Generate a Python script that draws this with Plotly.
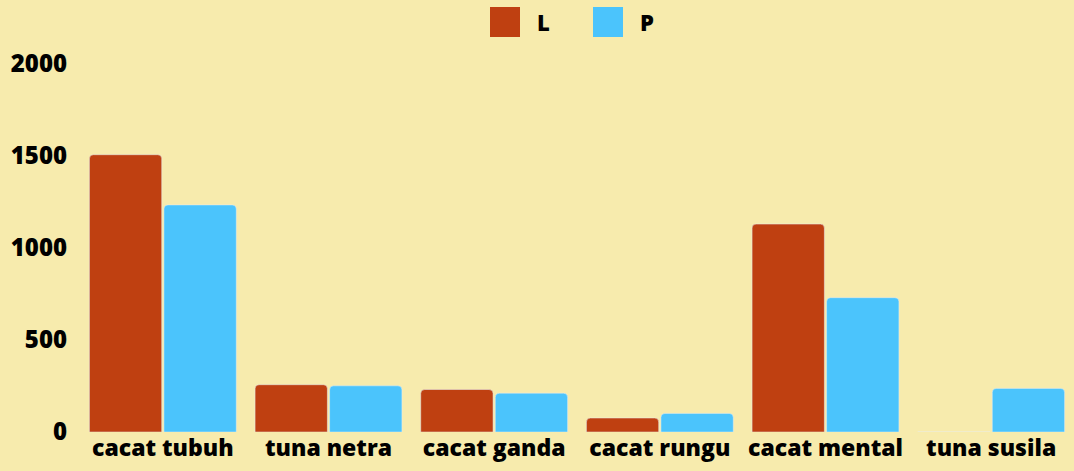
import plotly.graph_objects as go

categories = ["cacat tubuh", "tuna netra", "cacat ganda", "cacat rungu", "cacat mental", "tuna susila"]
laki = [1507, 257, 231, 76, 1130, 0]
perempuan = [1234, 251, 211, 101, 730, 237]

c_l = "#BF4011"
c_p = "#4BC4FC"
bg = "#F7EBAD"
font = dict(family="Open Sans", size=23, color="#000000", weight=800)

fig = go.Figure()
fig.add_trace(go.Bar(x=categories, y=laki, name="L", marker=dict(color=c_l, cornerradius=4), showlegend=False))
fig.add_trace(go.Bar(x=categories, y=perempuan, name="P", marker=dict(color=c_p, cornerradius=4), showlegend=False))

# legend drawn by hand so the swatches can be as large as the original
for x0, col, label in [(490, c_l, "L"), (593, c_p, "P")]:
    fig.add_shape(type="rect", xref="paper", yref="paper",
                  x0=(x0 - 80) / 994, x1=(x0 + 30 - 80) / 994,
                  y0=(432 - 7) / 368, y1=(432 - 37) / 368,
                  fillcolor=col, line=dict(width=0))
    fig.add_annotation(text=label, xref="paper", yref="paper",
                       x=(x0 + 45 - 80) / 994, y=(432 - 22) / 368,
                       xanchor="left", yanchor="middle", showarrow=False,
                       font=dict(family="Open Sans", size=22, color="#000000", weight=800))

fig.update_layout(
    width=1074, height=471,
    paper_bgcolor=bg, plot_bgcolor=bg,
    margin=dict(l=80, r=0, t=64, b=39),
    barmode="group", bargap=0.1, bargroupgap=0.03,
    font=font,
    xaxis=dict(showgrid=False, showline=False, ticks="", tickfont=font),
    yaxis=dict(range=[0, 2000], tickvals=[0, 500, 1000, 1500, 2000], showgrid=False,
               zeroline=False, showline=False, ticks="", ticklabelstandoff=12,
               tickfont=dict(family="Open Sans", size=24, color="#000000", weight=800)),
)

fig.write_html("out.html", config={"displayModeBar": False},
               post_script="document.body.style.margin='0';")
